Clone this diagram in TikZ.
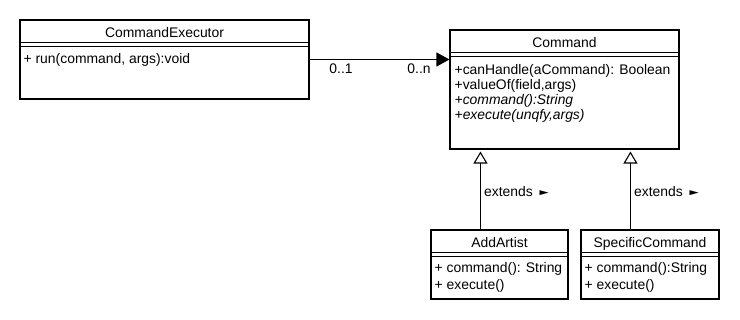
\documentclass[tikz,border=0pt]{standalone}
\usepackage{fontspec}
\setmainfont{Liberation Sans}
\usetikzlibrary{arrows.meta}
\begin{document}
\begin{tikzpicture}[x=1pt,y=-1pt,
  font=\fontsize{13.9}{15}\selectfont,
  classbox/.style={draw, line width=1.1pt, inner sep=0pt, rectangle},
  member/.style={anchor=base west, inner sep=0pt},
  title/.style={anchor=base, inner sep=0pt},
  mult/.style={anchor=base, inner sep=0pt},
  sepline/.style={line width=0.9pt},
  assoc/.style={line width=1.1pt, -{Triangle[length=13pt,width=14pt]}},
  gen/.style={line width=1.1pt, -{Triangle[open,length=12pt,width=14pt,fill=white]}, shorten >=2pt}
]
\useasboundingbox (0,0) rectangle (740,320);
\fill[white] (0,0) rectangle (740,320);

% class boxes
\node[classbox, minimum width=289pt, minimum height=79pt] (exec) at (164.5,59.5) {};
\node[classbox, minimum width=229pt, minimum height=119pt] (cmd) at (564.5,89.5) {};
\node[classbox, minimum width=137pt, minimum height=69pt] (aa) at (499.5,264.5) {};
\node[classbox, minimum width=138pt, minimum height=69pt] (sc) at (650,264.5) {};

% compartment separators (double line under each title)
\foreach \c in {exec,cmd,aa,sc} {
  \draw[sepline] ([yshift=-23pt]\c.north west) -- ([yshift=-23pt]\c.north east);
  \draw[sepline] ([yshift=-27pt]\c.north west) -- ([yshift=-27pt]\c.north east);
}

% titles
\node[title] (execT) at ([yshift=-18pt]exec.north) {CommandExecutor};
\node[title] (cmdT) at ([yshift=-18pt]cmd.north) {Command};
\node[title] (aaT) at ([yshift=-18pt]aa.north) {AddArtist};
\node[title] (scT) at ([yshift=-18pt]sc.north) {SpecificCommand};

% members
\node[member] (execM1) at ([xshift=4pt,yshift=-44pt]exec.north west) {+ run(command, args):void};

\node[member] (cmdM1) at ([xshift=5pt,yshift=-45pt]cmd.north west) {+canHandle(aCommand): Boolean};
\node[member] (cmdM2) at ([xshift=5pt,yshift=-60pt]cmd.north west) {+valueOf(field,args)};
\node[member] (cmdM3) at ([xshift=5pt,yshift=-75pt]cmd.north west) {\itshape +command():String};
\node[member] (cmdM4) at ([xshift=5pt,yshift=-90pt]cmd.north west) {\itshape +execute(unqfy,args)};

\node[member] (aaM1) at ([xshift=4pt,yshift=-43pt]aa.north west) {+ command(): String};
\node[member] (aaM2) at ([xshift=4pt,yshift=-60pt]aa.north west) {+ execute()};

\node[member] (scM1) at ([xshift=4pt,yshift=-43pt]sc.north west) {+ command():String};
\node[member] (scM2) at ([xshift=4pt,yshift=-60pt]sc.north west) {+ execute()};

% association
\draw[assoc] (exec.east) -- (exec.east -| cmd.west);
\node[mult] (m1) at (341,74) {0..1};
\node[mult] (m2) at (419,74) {0..n};

% generalizations
\path ([xshift=50pt]aa.north west) coordinate (g1);
\path ([xshift=50pt]sc.north west) coordinate (g2);
\draw[gen] (g1) -- (g1 |- cmd.south);
\draw[gen] (g2) -- (g2 |- cmd.south);
\node[member] (e1) at (484,197) {extends \raisebox{1.5pt}{\scalebox{1.1}[0.6]{►}}};
\node[member] (e2) at (634,197) {extends \raisebox{1.5pt}{\scalebox{1.1}[0.6]{►}}};
\end{tikzpicture}
\end{document}
